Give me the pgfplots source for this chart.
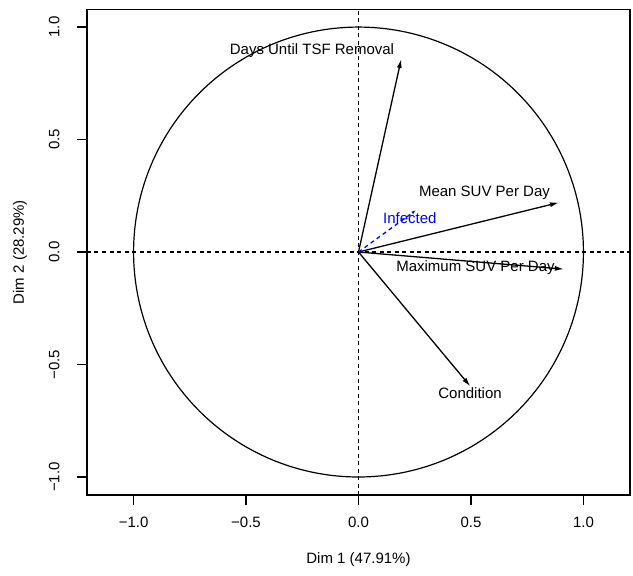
\documentclass[border=0pt]{standalone}
\usepackage{fontspec}
\setmainfont{Liberation Sans}
\usepackage{pgfplots}
\pgfplotsset{compat=1.18}
\usetikzlibrary{arrows.meta}
\begin{document}
\begin{tikzpicture}[font=\fontsize{15}{18}\selectfont]
\begin{axis}[
  scale only axis,
  width=543pt, height=485.7pt,
  xmin=-1.207, xmax=1.207, ymin=-1.080, ymax=1.079,
  axis line style={line width=1.3pt},
  xtick={-1,-0.5,0,0.5,1},
  xticklabels={−1.0,−0.5,0.0,0.5,1.0},
  ytick={-1,-0.5,0,0.5,1},
  yticklabels={−1.0,−0.5,0.0,0.5,1.0},
  xtick pos=bottom, ytick pos=left,
  tick align=outside,
  major tick length=10pt,
  every tick/.style={line width=1.3pt, black},
  yticklabel style={rotate=90, anchor=south},
  yticklabel shift=14pt,
  xticklabel shift=8pt,
  xlabel={Dim 1 (47.91\%)},
  ylabel={Dim 2 (28.29\%)},
  xlabel style={at={(axis description cs:0.5,-0.1338)}, anchor=center},
  ylabel style={at={(axis description cs:-0.1234,0.5)}, anchor=center},
  clip=false,
]
\coordinate (bl) at (rel axis cs:0,0);
\coordinate (tr) at (rel axis cs:1,1);
% reference lines
\addplot[black, line width=1.2pt, dash pattern=on 4pt off 3.5pt] coordinates {(-1.207,0) (1.207,0)};
\addplot[black, line width=1.2pt, dash pattern=on 4pt off 3.5pt] coordinates {(0,-1.080) (0,1.079)};
% correlation circle
\addplot[black, line width=1.2pt, domain=0:360, samples=241, smooth] ({cos(x)},{sin(x)});
% variable arrows
\addplot[black, line width=1.3pt, -{Latex[length=9pt,width=5pt]}] coordinates {(0,0) (0.190,0.858)};
\addplot[black, line width=1.3pt, -{Latex[length=9pt,width=5pt]}] coordinates {(0,0) (0.891,0.220)};
\addplot[black, line width=1.3pt, -{Latex[length=9pt,width=5pt]}] coordinates {(0,0) (0.913,-0.076)};
\addplot[black, line width=1.3pt, -{Latex[length=9pt,width=5pt]}] coordinates {(0,0) (0.497,-0.597)};
% supplementary variable
\addplot[blue, line width=1.3pt, dash pattern=on 4pt off 3.5pt, -{Latex[length=5pt,width=3pt]}] coordinates {(0,0) (0.257,0.187)};
% labels
\node at (axis cs:-0.207,0.895) {Days Until TSF Removal};
\node at (axis cs:0.560,0.261) {Mean SUV Per Day};
\node at (axis cs:0.520,-0.068) {Maximum SUV Per Day};
\node at (axis cs:0.496,-0.628) {Condition};
\node[text=blue] at (axis cs:0.228,0.152) {Infected};
\end{axis}
\pgfresetboundingbox
\path ([shift={(-87pt,-80pt)}]bl) rectangle ([shift={(3pt,9.3pt)}]tr);
\end{tikzpicture}
\end{document}
